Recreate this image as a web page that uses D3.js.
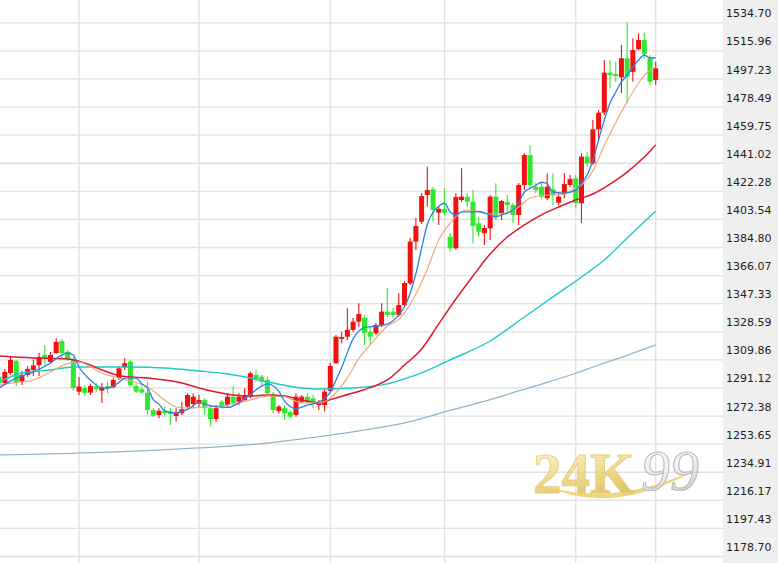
<!DOCTYPE html>
<html><head><meta charset="utf-8">
<script src="https://cdnjs.cloudflare.com/ajax/libs/d3/7.8.5/d3.min.js"></script>
<style>html,body{margin:0;padding:0;background:#fff;overflow:hidden}svg{display:block}</style>
</head><body>
<svg id="c" width="778" height="563"></svg>
<script>
// ---- data ----
const yTicks = [1534.70,1515.96,1497.23,1478.49,1459.75,1441.02,1422.28,1403.54,1384.80,1366.07,1347.33,1328.59,1309.86,1291.12,1272.38,1253.65,1234.91,1216.17,1197.43,1178.70];
const monthStarts = [14,35,58,78,101,115];
const opens = [1298.3,1294.1,1300.8,1308.8,1294.8,1299.5,1302.8,1306.1,1312.8,1308.1,1314.1,1322.1,1314.8,1310.1,1288.3,1290.8,1287.7,1291.7,1289.0,1292.1,1291.3,1297.3,1304.6,1308.3,1292.1,1289.9,1287.7,1276.1,1272.8,1275.6,1275.0,1272.1,1273.9,1278.3,1280.1,1280.6,1282.8,1277.3,1270.1,1281.6,1279.4,1285.0,1281.6,1282.8,1285.0,1299.5,1298.3,1296.1,1286.6,1275.4,1277.3,1274.6,1272.8,1281.6,1285.0,1283.9,1279.4,1279.4,1288.8,1307.3,1323.5,1325.0,1329.5,1335.0,1337.5,1328.3,1327.3,1332.8,1341.7,1341.7,1339.5,1346.1,1360.6,1388.4,1401.7,1419.5,1423.3,1407.7,1410.2,1391.7,1384.0,1416.2,1418.4,1415.0,1400.6,1394.0,1397.3,1418.4,1406.8,1415.0,1412.8,1406.2,1426.2,1446.2,1425.0,1425.0,1417.3,1423.3,1414.4,1420.2,1426.2,1430.6,1414.0,1445.1,1440.6,1463.3,1474.4,1501.1,1500.2,1498.0,1510.7,1501.7,1516.7,1522.9,1510.7,1496.2];
const highs = [1300.1,1303.5,1311.5,1309.5,1302.1,1305.5,1309.5,1314.1,1319.5,1314.8,1323.8,1323.5,1316.1,1311.5,1298.1,1292.8,1293.5,1294.1,1294.1,1295.0,1297.5,1305.0,1310.6,1309.5,1293.5,1291.7,1295.0,1277.3,1277.3,1278.3,1277.4,1277.3,1281.6,1287.3,1287.3,1286.1,1283.9,1278.3,1279.4,1282.8,1287.3,1291.7,1287.3,1290.6,1301.7,1302.8,1299.5,1298.3,1288.3,1279.4,1279.4,1276.1,1287.3,1286.1,1287.3,1286.1,1282.8,1289.5,1307.5,1326.1,1328.3,1343.9,1337.5,1347.3,1339.5,1331.7,1334.1,1347.3,1357.5,1344.1,1353.9,1362.1,1390.8,1404.2,1420.8,1438.4,1424.8,1411.7,1424.0,1394.2,1420.6,1437.3,1420.6,1422.8,1405.0,1399.5,1419.5,1427.3,1416.2,1419.5,1414.2,1427.5,1447.3,1452.9,1427.5,1428.4,1434.0,1434.0,1420.8,1434.0,1432.8,1432.8,1447.3,1448.4,1469.5,1476.2,1509.6,1509.6,1508.4,1519.6,1534.7,1524.0,1527.4,1527.8,1512.9,1508.4];
const lows = [1292.1,1292.8,1299.5,1292.1,1292.8,1298.1,1298.8,1298.8,1304.8,1306.8,1313.5,1310.8,1308.8,1288.8,1286.1,1285.5,1286.1,1288.1,1280.8,1287.3,1290.5,1296.1,1302.8,1291.7,1287.3,1287.3,1272.8,1271.6,1270.6,1271.6,1266.1,1268.3,1272.8,1277.3,1277.3,1278.3,1272.8,1265.0,1268.3,1277.3,1278.3,1279.4,1279.4,1281.6,1283.9,1295.0,1292.8,1286.1,1273.9,1273.9,1269.4,1270.6,1271.6,1280.6,1280.6,1277.3,1276.1,1275.0,1288.1,1306.8,1320.6,1322.8,1328.1,1331.7,1319.5,1319.5,1326.1,1331.5,1338.1,1337.5,1338.3,1344.8,1359.5,1382.8,1400.2,1411.7,1401.7,1399.5,1406.2,1381.7,1382.8,1415.0,1411.7,1387.3,1391.7,1386.2,1389.5,1402.8,1402.8,1408.4,1400.6,1399.5,1422.8,1424.0,1420.8,1417.3,1416.2,1412.8,1412.8,1417.3,1425.0,1410.6,1400.8,1438.4,1439.5,1456.2,1472.9,1490.7,1495.1,1487.5,1480.9,1495.1,1516.2,1510.7,1492.9,1492.9];
const closes = [1293.9,1301.5,1309.5,1294.1,1299.5,1303.5,1305.8,1311.5,1310.8,1312.8,1321.5,1314.1,1310.1,1290.8,1291.7,1287.5,1292.1,1289.9,1291.3,1290.6,1296.1,1303.9,1307.3,1292.8,1288.3,1287.7,1276.1,1272.3,1275.6,1273.9,1273.4,1274.3,1276.6,1286.1,1285.0,1282.8,1277.3,1270.1,1277.3,1278.3,1285.0,1280.6,1285.0,1286.1,1300.6,1296.1,1295.0,1287.3,1276.1,1278.3,1273.9,1271.6,1285.0,1285.0,1281.6,1280.6,1281.6,1288.3,1305.5,1325.0,1324.8,1329.5,1335.0,1340.1,1327.5,1325.0,1332.8,1341.7,1339.5,1339.5,1346.1,1360.8,1388.4,1398.8,1418.8,1422.8,1409.5,1410.2,1407.7,1384.0,1418.2,1418.4,1415.0,1398.8,1395.0,1397.5,1418.4,1405.0,1415.5,1412.8,1406.2,1426.2,1446.2,1426.2,1422.8,1418.4,1425.0,1419.5,1418.4,1426.8,1430.2,1414.0,1445.1,1440.6,1463.3,1474.4,1501.1,1499.5,1498.9,1510.7,1498.4,1516.2,1522.9,1513.6,1495.1,1504.0];

// moving-average lines: [candle index, value]
const ma5 = [[0,1290.8],[3,1297.4],[6,1301.4],[9,1307.4],[11,1312.8],[12,1314.1],[13,1312.8],[14,1304.8],[16,1296.1],[18,1290.8],[19,1290.6],[21,1294.5],[22,1297.4],[23,1297.6],[24,1297.4],[25,1293.5],[26,1290.8],[27,1283.0],[28,1280.0],[29,1275.5],[31,1274.1],[33,1276.5],[35,1280.8],[37,1279.0],[38,1278.3],[40,1277.8],[42,1280.8],[44,1286.5],[46,1292.0],[47,1293.5],[49,1288.5],[50,1282.0],[52,1277.0],[54,1279.4],[56,1281.4],[58,1288.0],[59,1296.0],[60,1304.5],[62,1323.5],[64,1331.0],[66,1332.0],[68,1333.3],[70,1339.5],[71,1345.0],[72,1354.0],[73,1367.0],[74,1384.0],[75,1400.0],[76,1408.0],[77,1412.0],[78,1414.0],[79,1408.2],[80,1406.2],[81,1408.2],[82,1408.2],[84,1408.5],[85,1407.5],[86,1406.2],[87,1404.8],[88,1406.2],[90,1409.5],[91,1414.5],[92,1421.5],[93,1424.0],[94,1426.0],[95,1428.0],[96,1427.0],[97,1421.5],[99,1420.8],[101,1422.8],[102,1427.5],[103,1432.8],[104,1442.9],[105,1456.2],[106,1469.5],[107,1480.9],[108,1488.2],[109,1494.9],[110,1499.6],[111,1504.9],[112,1509.6],[113,1512.9],[114,1510.9],[115,1510.9]];
const ma10 = [[0,1292.8],[3,1294.5],[6,1296.1],[9,1301.4],[12,1307.0],[14,1308.0],[16,1305.0],[18,1300.8],[21,1297.4],[23,1295.4],[26,1291.4],[29,1282.8],[31,1278.1],[33,1277.4],[36,1278.1],[40,1279.4],[44,1282.8],[47,1285.4],[50,1284.8],[53,1280.8],[56,1280.8],[58,1284.0],[61,1297.5],[63,1310.5],[65,1319.5],[68,1332.0],[70,1336.5],[72,1346.5],[75,1370.0],[77,1389.5],[79,1400.8],[82,1409.5],[84,1408.2],[86,1406.8],[89,1407.5],[91,1411.5],[93,1417.5],[96,1419.5],[98,1419.5],[100,1422.2],[102,1426.2],[104,1435.5],[106,1452.6],[108,1467.9],[110,1481.8],[112,1494.2],[114,1502.9],[115,1504.9]];
const ma30 = [[0,1312.1],[6,1310.8],[12,1310.1],[15,1307.4],[18,1302.8],[21,1299.0],[23,1298.1],[26,1297.4],[29,1296.1],[32,1294.1],[35,1290.8],[38,1288.1],[41,1286.1],[44,1285.4],[47,1286.1],[50,1285.4],[53,1282.8],[56,1280.8],[58,1283.0],[62,1287.4],[65,1291.0],[68,1296.1],[71,1306.1],[74,1316.8],[77,1333.5],[80,1350.1],[83,1365.5],[86,1380.2],[89,1391.5],[92,1399.5],[95,1406.2],[98,1411.5],[101,1416.2],[104,1420.2],[107,1426.8],[110,1434.8],[113,1444.8],[115,1452.9]];
const ma60 = [[0,1294.8],[4,1300.8],[9,1302.8],[13,1304.8],[18,1304.8],[23,1304.8],[29,1304.1],[35,1302.1],[40,1300.1],[44,1297.4],[47,1294.8],[53,1290.8],[56,1290.1],[62,1290.8],[68,1293.5],[71,1296.8],[74,1300.8],[79,1309.5],[86,1322.1],[92,1338.1],[97,1351.5],[103,1367.5],[106,1376.2],[110,1390.8],[115,1408.8]];
const ma120 = [[0,1246.1],[18,1247.8],[35,1250.8],[44,1253.0],[53,1256.8],[58,1259.3],[66,1264.0],[71,1267.5],[79,1275.8],[86,1283.0],[91,1288.8],[96,1294.5],[101,1300.6],[105,1306.1],[110,1312.6],[115,1319.5]];

// ---- chart ----
const W = 778, H = 563, plotRight = 723;
const svg = d3.select("#c");
const x = d3.scaleLinear().domain([0, 115]).range([-0.9, 655.7]);
const y = d3.scaleLinear().domain([1178.70, 1534.70]).range([556, 22.3]);

svg.append("rect").attr("width", W).attr("height", H).attr("fill", "#fff");
svg.append("rect").attr("x", plotRight).attr("y", 0).attr("width", W - plotRight).attr("height", H).attr("fill", "#efefef");

// horizontal grid
const gGrid = svg.append("g").attr("transform", `translate(${plotRight},0)`)
  .call(d3.axisLeft(y).tickValues(yTicks).tickSize(plotRight).tickFormat(""));
gGrid.select(".domain").remove();
gGrid.selectAll("line").attr("stroke", "#e0e0e0").attr("stroke-width", 1.3);

// vertical grid
svg.append("g").selectAll("line").data(monthStarts).join("line")
  .attr("x1", d => x(d)).attr("x2", d => x(d)).attr("y1", 0).attr("y2", H)
  .attr("stroke", "#e0e0e0").attr("stroke-width", 1.3);

// axis labels
const gAx = svg.append("g").attr("transform", `translate(${plotRight},0)`)
  .call(d3.axisRight(y).tickValues(yTicks).tickSize(0).tickPadding(3).tickFormat(d3.format(".2f")));
gAx.select(".domain").remove();
gAx.selectAll("text").attr("y", -9).attr("font-family", "DejaVu Sans, Verdana, sans-serif")
  .attr("font-size", 11).attr("fill", "#222");

// watermark
const defs = svg.append("defs");
const gold = defs.append("linearGradient").attr("id", "gold").attr("x1", 0).attr("y1", 0).attr("x2", 0.3).attr("y2", 1);
gold.append("stop").attr("offset", "0%").attr("stop-color", "#fff8d8");
gold.append("stop").attr("offset", "45%").attr("stop-color", "#f3df8e");
gold.append("stop").attr("offset", "100%").attr("stop-color", "#d9b64a");
const silver = defs.append("linearGradient").attr("id", "silver").attr("x1", 0).attr("y1", 0).attr("x2", 0.4).attr("y2", 1);
silver.append("stop").attr("offset", "0%").attr("stop-color", "#ffffff");
silver.append("stop").attr("offset", "60%").attr("stop-color", "#eeeeee");
silver.append("stop").attr("offset", "100%").attr("stop-color", "#c8c8c8");
const wm = svg.append("g").attr("opacity", 0.85);
wm.append("path").attr("d", "M545,486 Q615,518 703,466 Q618,508 545,486 Z").attr("fill", "#ecd06a");
wm.append("text").attr("x", 533).attr("y", 493).text("24K")
  .attr("font-family", "Liberation Serif, DejaVu Serif, serif").attr("font-weight", "bold")
  .attr("font-size", 57).attr("fill", "url(#gold)").attr("stroke", "#e2c765").attr("stroke-width", 0.9);
wm.append("text").attr("x", 641).attr("y", 490).text("99")
  .attr("font-family", "Liberation Serif, DejaVu Serif, serif").attr("font-style", "italic")
  .attr("font-size", 58).attr("fill", "url(#silver)").attr("stroke", "#b0b0b0").attr("stroke-width", 1.1);

// candles
const idx = d3.range(closes.length);
const up = i => closes[i] >= opens[i];
const colUp = "#f21010", colDn = "#30e830";
const bw = 5.0;
const gc = svg.append("g");
gc.selectAll("line").data(idx).join("line")
  .attr("x1", i => x(i)).attr("x2", i => x(i))
  .attr("y1", i => y(highs[i])).attr("y2", i => y(lows[i]))
  .attr("stroke", i => up(i) ? colUp : colDn).attr("stroke-width", 1.1);
gc.selectAll("rect").data(idx).join("rect")
  .attr("x", i => x(i) - bw / 2).attr("width", bw)
  .attr("y", i => Math.min(y(opens[i]), y(closes[i])))
  .attr("height", i => Math.max(1.5, Math.abs(y(opens[i]) - y(closes[i]))))
  .attr("fill", i => up(i) ? colUp : colDn);

// moving averages
const line = d3.line().x(d => x(d[0])).y(d => y(d[1])).curve(d3.curveMonotoneX);
const series = [
  { data: ma120, color: "#93b4c8", w: 1.3 },
  { data: ma60, color: "#1ec8c8", w: 1.4 },
  { data: ma30, color: "#e0192d", w: 1.5 },
  { data: ma10, color: "#ebaa78", w: 1.2 },
  { data: ma5, color: "#2b80e6", w: 1.3 }
];
svg.append("g").selectAll("path").data(series).join("path")
  .attr("d", s => line(s.data)).attr("fill", "none")
  .attr("stroke", s => s.color).attr("stroke-width", s => s.w);
</script>
</body></html>
